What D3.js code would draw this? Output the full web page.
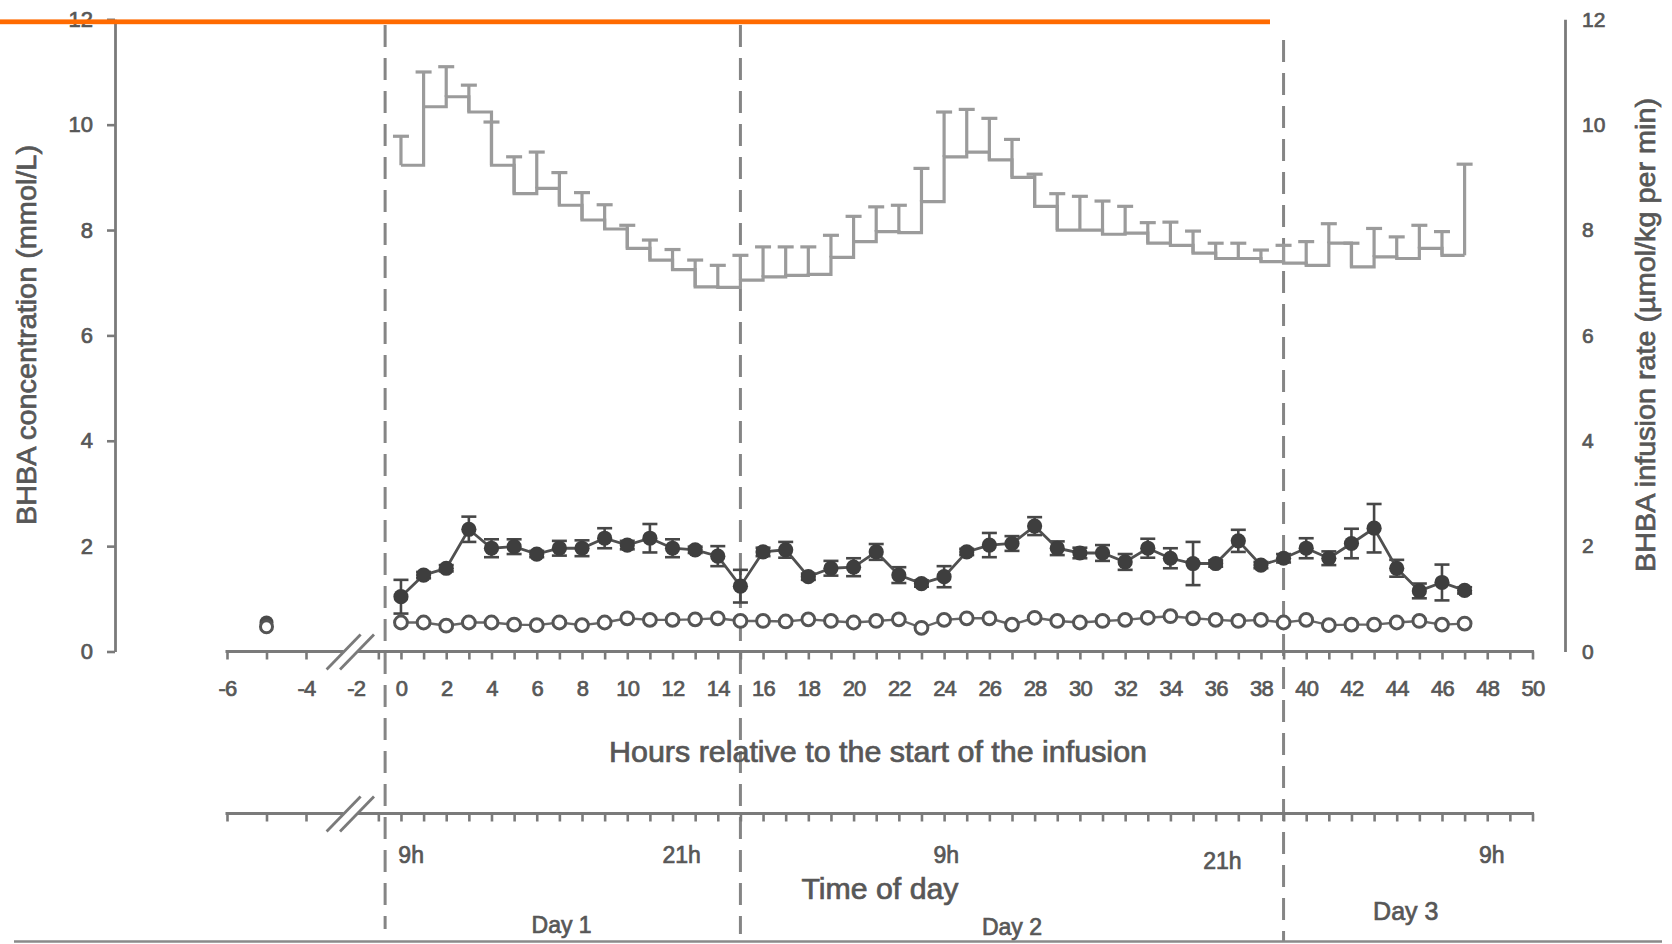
<!DOCTYPE html>
<html><head><meta charset="utf-8">
<script src="https://cdn.jsdelivr.net/npm/d3@7"></script>
<style>
body{margin:0;background:#fff}
svg{display:block}
text{font-family:"Liberation Sans",Arial,Helvetica,sans-serif;stroke:#575757;stroke-width:0.7px;paint-order:stroke}
</style>
</head><body>
<svg id="c" width="1672" height="944"></svg>
<script>
// ---------------- DATA ----------------
const hours = [0,1,2,3,4,5,6,7,8,9,10,11,12,13,14,15,16,17,18,19,20,21,22,23,24,25,26,27,28,29,30,31,32,33,34,35,36,37,38,39,40,41,42,43,44,45,46,47];
// BHBA infusion rate (µmol/kg per min), hourly step + SD
const infusionRate = [9.23,10.34,10.53,10.24,9.23,8.69,8.79,8.47,8.19,8.02,
  7.65,7.43,7.25,6.92,6.91,7.05,7.11,7.14,7.16,7.48,
  7.78,7.97,7.95,8.54,9.39,9.48,9.33,9.00,8.45,8.00,
  8.00,7.92,7.94,7.75,7.71,7.56,7.46,7.46,7.40,7.37,
  7.33,7.75,7.30,7.49,7.46,7.65,7.52,7.52];
const infusionSD = [0.55,0.66,0.57,0.51,0.82,0.70,0.69,0.62,0.52,0.46,
  0.44,0.38,0.38,0.51,0.42,0.47,0.57,0.54,0.52,0.42,
  0.48,0.47,0.52,0.63,0.85,0.81,0.79,0.72,0.61,0.69,
  0.64,0.63,0.51,0.39,0.44,0.42,0.29,0.29,0.22,0.34,
  0.45,0.37,0.45,0.54,0.41,0.44,0.45,1.73];
// BHBA concentration (mmol/L), infused group (filled) mean + SD
const concMean = [1.04,1.45,1.58,2.32,1.96,1.99,1.85,1.96,1.96,2.15,
  2.02,2.15,1.96,1.93,1.81,1.24,1.89,1.93,1.42,1.58,
  1.60,1.89,1.45,1.29,1.42,1.89,2.02,2.05,2.38,1.96,
  1.87,1.87,1.70,1.96,1.77,1.67,1.67,2.10,1.64,1.77,
  1.96,1.77,2.05,2.34,1.58,1.15,1.31,1.16];
const concSD = [0.32,0.06,0.06,0.24,0.17,0.14,0.06,0.14,0.15,0.19,
  0.08,0.27,0.17,0.06,0.19,0.31,0.08,0.15,0.06,0.14,
  0.17,0.15,0.15,0.06,0.20,0.06,0.23,0.14,0.17,0.13,
  0.10,0.15,0.15,0.18,0.19,0.41,0.06,0.21,0.06,0.08,
  0.19,0.13,0.28,0.46,0.16,0.14,0.34,0.06];
// control group (open circles)
const ctrlMean = [0.55,0.55,0.49,0.55,0.55,0.51,0.50,0.55,0.50,0.55,
  0.63,0.60,0.60,0.61,0.63,0.58,0.58,0.57,0.61,0.58,
  0.55,0.58,0.61,0.45,0.60,0.63,0.63,0.51,0.64,0.58,
  0.55,0.58,0.60,0.64,0.67,0.63,0.60,0.58,0.60,0.55,
  0.60,0.50,0.51,0.51,0.55,0.58,0.51,0.53];
// pre-infusion baseline
const preHours = [-5];
const preConc = [0.55];
const preCtrl = [0.47];

// axes
const yTicks = [0,2,4,6,8,10,12];
const hourTicks = [-6,-5,-4,-1,0,1,2,3,4,5,6,7,8,9,10,11,12,13,14,15,16,17,18,19,20,21,22,23,24,25,26,27,28,29,30,31,32,33,34,35,36,37,38,39,40,41,42,43,44,45,46,47,48,49,50];
const hourLabels = [-6,-4,-2,0,2,4,6,8,10,12,14,16,18,20,22,24,26,28,30,32,34,36,38,40,42,44,46,48,50];
const dividerHours = [-0.7,15,39];
const timeLabels = ["9h","21h","9h","21h","9h"];
const timeLabelHours = [0.45,12.4,24.1,36.3,48.2];
const dayLabels = ["Day 1","Day 2","Day 3"];
const dayLabelHours = [7.1,27.0,44.4];

// ---------------- LAYOUT ----------------
const svg = d3.select("#c");
const x = d3.scaleLinear().domain([-6,-4,-2,50]).range([227,306,355.7,1532.5]);
const y = d3.scaleLinear().domain([0,12]).range([651.5,19.3]);
const axisY = 651.5, timeY = 813.5, brk = 350.3;
const axisGrey = "#7a7a7a", textGrey = "#575757";

// dashed day dividers
const divTop = [25,25,40], divBottom = [929,934,942];
svg.append("g").selectAll("line").data(dividerHours).join("line")
  .attr("x1",d=>x(d)).attr("x2",d=>x(d))
  .attr("y1",(d,i)=>divTop[i]).attr("y2",(d,i)=>divBottom[i])
  .attr("stroke","#858585").attr("stroke-width",3)
  .attr("stroke-dasharray","22,11");

// bottom rule
svg.append("line").attr("x1",14).attr("x2",1662).attr("y1",941.5).attr("y2",941.5)
  .attr("stroke","#8a8a8a").attr("stroke-width",2.5);

// left axis
const gl = svg.append("g").attr("transform","translate(115,0)")
  .call(d3.axisLeft(y).tickValues(yTicks).tickSize(8).tickSizeOuter(0).tickPadding(14));
gl.attr("color",textGrey).attr("font-size",22).attr("font-family",null);
gl.select(".domain").attr("stroke",axisGrey).attr("stroke-width",2.8);
gl.selectAll(".tick line").attr("stroke",axisGrey).attr("stroke-width",2.6);

// right axis
const gr = svg.append("g").attr("transform","translate(1565,0)")
  .call(d3.axisRight(y).tickValues(yTicks).tickSize(0).tickSizeOuter(0).tickPadding(17));
gr.attr("color",textGrey).attr("font-size",21).attr("font-family",null);
gr.select(".domain").attr("stroke",axisGrey).attr("stroke-width",2.8);

// broken horizontal axes
function brokenAxis(yPos, withLabels){
  const g = svg.append("g").attr("transform",`translate(0,${yPos})`);
  g.call(d3.axisBottom(x).tickValues(hourTicks).tickSize(8).tickSizeOuter(0).tickFormat(""));
  g.select(".domain").remove();
  g.selectAll(".tick line").attr("stroke",axisGrey).attr("stroke-width",2.6);
  g.append("line").attr("x1",x(-6)-1.5).attr("x2",brk-6.7).attr("y1",0).attr("y2",0)
    .attr("stroke",axisGrey).attr("stroke-width",3);
  g.append("line").attr("x1",brk+6.7).attr("x2",x(50)+1.5).attr("y1",0).attr("y2",0)
    .attr("stroke",axisGrey).attr("stroke-width",3);
  [-6.7,6.7].forEach(o=>{
    g.append("line").attr("x1",brk+o-17).attr("y1",18).attr("x2",brk+o+17).attr("y2",-17)
      .attr("stroke",axisGrey).attr("stroke-width",2.8);
  });
  if(withLabels){
    const gl2 = svg.append("g").attr("transform",`translate(0,${yPos})`)
      .call(d3.axisBottom(x).tickValues(hourLabels).tickSize(0).tickPadding(29).tickFormat(d=>String(d)));
    gl2.select(".domain").remove();
    gl2.attr("color",textGrey).attr("font-size",22).attr("font-family",null);
    gl2.selectAll("text").attr("letter-spacing","-0.8");
  }
}
brokenAxis(axisY,true);
brokenAxis(timeY,false);

// axis titles
svg.append("text").attr("transform","translate(36,335) rotate(-90)")
  .attr("text-anchor","middle").attr("font-size",27).attr("fill",textGrey)
  .attr("textLength",380).attr("lengthAdjust","spacingAndGlyphs")
  .text("BHBA concentration (mmol/L)");
svg.append("text").attr("transform","translate(1655,335) rotate(-90)")
  .attr("text-anchor","middle").attr("font-size",27).attr("fill",textGrey)
  .attr("textLength",474).attr("lengthAdjust","spacingAndGlyphs")
  .text("BHBA infusion rate (µmol/kg per min)");
svg.append("text").attr("x",878).attr("y",762).attr("text-anchor","middle")
  .attr("font-size",29).attr("fill",textGrey)
  .attr("textLength",538).attr("lengthAdjust","spacingAndGlyphs")
  .text("Hours relative to the start of the infusion");
svg.append("text").attr("x",880).attr("y",899).attr("text-anchor","middle")
  .attr("font-size",29).attr("fill",textGrey)
  .attr("textLength",157).attr("lengthAdjust","spacingAndGlyphs")
  .text("Time of day");

// time of day labels
svg.append("g").selectAll("text").data(timeLabels).join("text")
  .attr("x",(d,i)=>x(timeLabelHours[i])).attr("y",(d,i)=>i===3?869:863)
  .attr("text-anchor","middle").attr("font-size",23).attr("fill",textGrey)
  .text(d=>d);
// day labels
svg.append("g").selectAll("text").data(dayLabels).join("text")
  .attr("x",(d,i)=>x(dayLabelHours[i])).attr("y",(d,i)=>[933,935,920][i])
  .attr("text-anchor","middle").attr("font-size",(d,i)=>i===2?25:23).attr("fill",textGrey)
  .text(d=>d);

// ---------------- INFUSION STEPS ----------------
const rateData = hours.map((h,i)=>({h, m:infusionRate[i], sd:infusionSD[i]}));
const stepColor = "#9b9b9b";
svg.append("path").datum(rateData)
  .attr("d", d3.line().x(d=>x(d.h)).y(d=>y(d.m)).curve(d3.curveStepAfter))
  .attr("fill","none").attr("stroke",stepColor).attr("stroke-width",3.2);
const rg = svg.append("g").attr("stroke",stepColor).attr("stroke-width",3.2);
rg.selectAll("line.v").data(rateData).join("line").attr("class","v")
  .attr("x1",d=>x(d.h)).attr("x2",d=>x(d.h)).attr("y1",d=>y(d.m)).attr("y2",d=>y(d.m+d.sd));
rg.selectAll("line.c").data(rateData).join("line").attr("class","c")
  .attr("x1",d=>x(d.h)-8).attr("x2",d=>x(d.h)+8).attr("y1",d=>y(d.m+d.sd)).attr("y2",d=>y(d.m+d.sd));

// ---------------- CONCENTRATION ----------------
const concData = hours.map((h,i)=>({h, m:concMean[i], sd:concSD[i]}));
const dark = "#474747";
const eg = svg.append("g").attr("stroke",dark).attr("stroke-width",2.6);
eg.selectAll("line.v").data(concData).join("line").attr("class","v")
  .attr("x1",d=>x(d.h)).attr("x2",d=>x(d.h)).attr("y1",d=>y(d.m-d.sd)).attr("y2",d=>y(d.m+d.sd));
eg.selectAll("line.t").data(concData).join("line").attr("class","t")
  .attr("x1",d=>x(d.h)-7.5).attr("x2",d=>x(d.h)+7.5).attr("y1",d=>y(d.m+d.sd)).attr("y2",d=>y(d.m+d.sd));
eg.selectAll("line.b").data(concData).join("line").attr("class","b")
  .attr("x1",d=>x(d.h)-7.5).attr("x2",d=>x(d.h)+7.5).attr("y1",d=>y(d.m-d.sd)).attr("y2",d=>y(d.m-d.sd));
svg.append("path").datum(concData)
  .attr("d", d3.line().x(d=>x(d.h)).y(d=>y(d.m)))
  .attr("fill","none").attr("stroke","#505050").attr("stroke-width",2.8);
svg.append("g").selectAll("circle").data(concData).join("circle")
  .attr("cx",d=>x(d.h)).attr("cy",d=>y(d.m)).attr("r",7.6)
  .attr("fill","#3e3e3e");

// control group
const ctrlData = hours.map((h,i)=>({h, m:ctrlMean[i]}));
svg.append("path").datum(ctrlData)
  .attr("d", d3.line().x(d=>x(d.h)).y(d=>y(d.m)))
  .attr("fill","none").attr("stroke","#666").attr("stroke-width",2.4);
svg.append("g").selectAll("circle").data(ctrlData).join("circle")
  .attr("cx",d=>x(d.h)).attr("cy",d=>y(d.m)).attr("r",6.4)
  .attr("fill","#fff").attr("stroke","#555").attr("stroke-width",3);

// pre-infusion baseline
svg.append("g").selectAll("circle").data(preHours).join("circle")
  .attr("cx",d=>x(d)).attr("cy",(d,i)=>y(preConc[i])).attr("r",7)
  .attr("fill","#4a4a4a");
svg.append("g").selectAll("circle").data(preHours).join("circle")
  .attr("cx",d=>x(d)).attr("cy",(d,i)=>y(preCtrl[i])).attr("r",6)
  .attr("fill","#fff").attr("stroke","#555").attr("stroke-width",3);

// orange rule on top
svg.append("rect").attr("x",0).attr("y",19.4).attr("width",1270).attr("height",4.8)
  .attr("fill","#ff6a00");
</script>
</body></html>
